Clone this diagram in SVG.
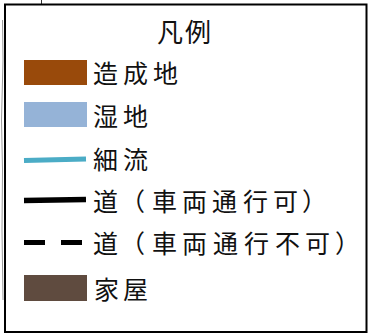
<svg xmlns="http://www.w3.org/2000/svg" width="369" height="334" viewBox="0 0 369 334">
  <style>
    .lbl { font-family: "Noto Sans CJK JP", "Noto Sans CJK SC", sans-serif; font-size: 25px; fill: #111; dominant-baseline: central; }
    .title { font-family: "Noto Sans CJK JP", "Noto Sans CJK SC", sans-serif; font-size: 26px; fill: #111; dominant-baseline: central; }
  </style>
  <rect width="369" height="334" fill="#ffffff"/>
  <g id="background-fragments" fill="none" stroke="#333" stroke-width="1">
    <line x1="41.5" y1="0" x2="41.5" y2="4"/>
    <path d="M2.5 20 L3 60 L1.5 120 L2.5 170 L2 230 L3 300" stroke="#999"/>
  </g>
  <g id="legend-frame">
    <rect x="5" y="4.5" width="361.5" height="327.5" fill="#ffffff" stroke="#000" stroke-width="2"/>
    <text class="title" x="157 185" y="30">凡例</text>
  </g>
  <g id="item-zoseichi">
    <rect x="24" y="60" width="63" height="25" fill="#994a0b"/>
    <text class="lbl" x="93 123 153" y="72">造成地</text>
  </g>
  <g id="item-shitchi">
    <rect x="24" y="102" width="63" height="25" fill="#95b3d7"/>
    <text class="lbl" x="93 123" y="115">湿地</text>
  </g>
  <g id="connectors">
    <g id="item-sairyu">
      <line x1="24" y1="160.5" x2="86" y2="159" stroke="#4bacc6" stroke-width="5"/>
      <text class="lbl" x="93 123" y="158">細流</text>
    </g>
    <g id="item-road">
      <line x1="24" y1="200.5" x2="86" y2="199.5" stroke="#000" stroke-width="5.5"/>
      <text class="lbl" x="93 120 152 182 212 243 273 302" y="200">道（車両通行可）</text>
    </g>
    <g id="item-path">
      <line x1="24" y1="242.5" x2="83" y2="242.5" stroke="#000" stroke-width="5" stroke-dasharray="21 16"/>
      <text class="lbl" x="93 120 152 182 213 244 275 305 335" y="241.5">道（車両通行不可）</text>
    </g>
  </g>
  <g id="item-kaoku">
    <rect x="24" y="275" width="63" height="26" fill="#5f4b3f"/>
    <text class="lbl" x="94 123" y="288">家屋</text>
  </g>
</svg>
